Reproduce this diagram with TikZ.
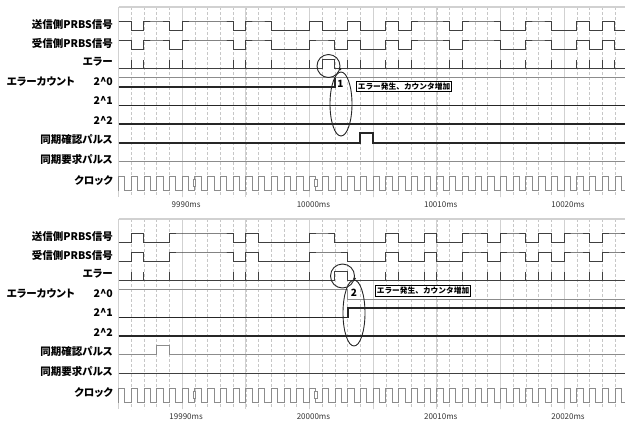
\documentclass[tikz,border=0pt]{standalone}
\usepackage{fontspec}
\setmainfont{Noto Sans CJK JP}[RawFeature=+palt]
\newfontfamily\notefont{Noto Sans CJK JP}
\usetikzlibrary{shapes.geometric}

% one bit = one clock = 1 ms
\newcommand{\bitx}[1]{118.5+12.73*(#1)}
% waveform from a list of bits: [style]{high y}{low y}{bits}
\newcommand{\wave}[4][sig]{%
  \pgfmathtruncatemacro\wfirst{{#4}[0]}%
  \draw[#1] (118.5,{#3-(#3-#2)*\wfirst})
    \foreach \bit [count=\k from 0] in {#4} {
      -- ({\bitx{\k}},{#3-(#3-#2)*\bit}) -- ({\bitx{\k+1}},{#3-(#3-#2)*\bit})};%
}

\begin{document}
\begin{tikzpicture}[x=1pt,y=-1pt,
    sig/.style={line width=1pt,draw=black!75},
    thin/.style={line width=0.9pt,draw=black!45},
    cnt/.style={line width=1.9pt,draw=black!85},
    clk/.style={line width=0.8pt,draw=black!45},
    gmaj/.style={line width=0.7pt,draw=black!18},
    gmin/.style={line width=0.5pt,draw=black!22,dash pattern=on 2.5pt off 2.5pt},
    lab/.style={anchor=east,inner sep=0pt,font=\bfseries\fontsize{10.5}{11}\selectfont},
    ms/.style={inner sep=0pt,font=\fontsize{8}{9}\selectfont,text=black!80},
    ring/.style={draw=black!85,line width=0.9pt,inner sep=0pt},
    note/.style={draw=black,line width=0.9pt,fill=white,inner sep=1.5pt,font=\notefont\bfseries\fontsize{7.7}{8}\selectfont}]

  \useasboundingbox (0,0) rectangle (625,421);

  % both runs share grid, labels and clock
  \foreach \dy/\p in {0/a,212/b}{
  \begin{scope}[shift={(0,\dy)}]
    \foreach \k in {1,...,39} \draw[gmin] ({\bitx{\k}},7) -- ({\bitx{\k}},197);
    \foreach \k in {0,5,...,35} \draw[gmaj] ({\bitx{\k}},7) -- ({\bitx{\k}},197);
    \draw[gmaj,line width=1.3pt] (118.5,7) -- (625,7);

    \node[lab] (tx\p) at (113,25) {送信側PRBS信号};
    \node[lab] (rx\p) at (113,43.5) {受信側PRBS信号};
    \node[lab] (err\p) at (113,62) {エラー};
    \node[lab,anchor=west] (cnt\p) at (6.7,81.5) {エラーカウント};
    \node[lab] (one\p) at (113,81.5) {2\textasciicircum0};
    \node[lab] (two\p) at (113,100.5) {2\textasciicircum1};
    \node[lab] (four\p) at (113,120) {2\textasciicircum2};
    \node[lab] (ack\p) at (113,139.5) {同期確認パルス};
    \node[lab] (req\p) at (113,159) {同期要求パルス};
    \node[lab] (clk\p) at (113,180.5) {クロック};

    \draw[clk] (118.5,190.7) \foreach \k in {0,...,39} {
      -- ({\bitx{\k}},176) -- ({\bitx{\k+0.5}},176) -- ({\bitx{\k+0.5}},190.7) -- ({\bitx{\k+1}},190.7)};
    \draw[clk,fill=white] (193,179.5) rectangle (195.5,186);
    \draw[clk,fill=white] (314.5,179.5) rectangle (317,186);
  \end{scope}}

  \foreach \k/\t in {5/9990,15/10000,25/10010,35/10020}
    \node[ms] (ta\k) at ({\bitx{\k}+4},205) {\t ms};
  \foreach \k/\t in {5/19990,15/20000,25/20010,35/20020}
    \node[ms] (tb\k) at ({\bitx{\k}+4},417) {\t ms};

  % first run: error at 10001ms
  \wave{21}{30.7}{1,0,1,1,0,1,1,1,1,0,1,1,0,0,0,1,0,0,1,0,0,1,0,1,1,1,0,1,1,1,0,0,1,1,0,0,1,0,1,0}
  \wave{40}{49.3}{1,0,1,1,0,1,1,1,1,0,1,1,0,0,0,1,1,0,1,0,0,1,0,1,1,1,0,1,1,1,0,0,1,1,0,0,1,0,1,0}
  \draw[sig] (118.5,68) -| ({\bitx{16}},59.5) -| ({\bitx{17}},68) -- (625,68);
  \foreach \k in {1,2,4,5,9,10,12,15,18,19,21,22,23,26,27,30,32,34,36,37,38,39}
    \draw[sig] ({\bitx{\k}},68) -- ({\bitx{\k}},59.5);
  \draw[thin] (118.5,77.5) -- (625,77.5);
  \draw[cnt] (118.5,87) -| ({\bitx{17}},77.5);
  \draw[cnt] (118.5,105.5) -- (625,105.5);
  \draw[cnt] (118.5,124) -- (625,124);
  \draw[cnt] (118.5,142.7) -| ({\bitx{19}},133.3) -| ({\bitx{20}},142.7) -- (625,142.7);
  \draw[thin] (118.5,161.5) -- (625,161.5);

  \node[ring,circle,minimum size=23pt] (hit1) at (328.5,66) {};
  \node[ring,ellipse,minimum width=22pt,minimum height=64pt] (lap1) at (341,104) {};
  \fill[black!85] (hit1.-15) circle (1.4);
  \node[inner sep=0pt,font=\bfseries\fontsize{10}{10}\selectfont] (no1) at (340.5,84) {1};
  \node[note] (say1) at (404,86.7) {エラー発生、カウンタ増加};

  % second run: error at 20002ms
  \wave{233}{242.7}{0,1,0,0,1,1,1,1,1,0,1,0,0,0,0,1,1,0,0,0,0,1,0,0,1,0,0,1,1,0,1,1,0,1,0,1,1,0,1,1}
  \wave{252}{261.3}{0,1,0,0,1,1,1,1,1,0,1,0,0,0,0,1,1,1,0,0,0,1,0,0,1,0,0,1,1,0,1,1,0,1,0,1,1,0,1,1}
  \draw[sig] (118.5,280) -| ({\bitx{17}},271.5) -| ({\bitx{18}},280) -- (625,280);
  \foreach \k in {1,2,4,9,10,11,15,21,22,24,25,27,29,30,32,33,34,35,37,38}
    \draw[sig] ({\bitx{\k}},280) -- ({\bitx{\k}},271.5);
  \draw[thin] (118.5,289.5) -| ({\bitx{18}},299) -- (625,299);
  \draw[cnt] (118.5,317.5) -| ({\bitx{18}},308.3) -- (625,308.3);
  \draw[cnt] (118.5,336) -- (625,336);
  \draw[thin] (118.5,354.7) -| ({\bitx{3}},345.3) -| ({\bitx{4}},354.7) -- (625,354.7);
  \draw[sig] (118.5,373.5) -- (625,373.5);

  \node[ring,circle,minimum size=24pt] (hit2) at (342.5,276) {};
  \node[ring,ellipse,minimum width=22pt,minimum height=66pt] (lap2) at (354,313) {};
  \fill[black!85] (hit2.-12) circle (1.4);
  \node[inner sep=0pt,font=\bfseries\fontsize{10}{10}\selectfont] (no2) at (354,293) {2};
  \node[note] (say2) at (423,291) {エラー発生、カウンタ増加};
\end{tikzpicture}
\end{document}
